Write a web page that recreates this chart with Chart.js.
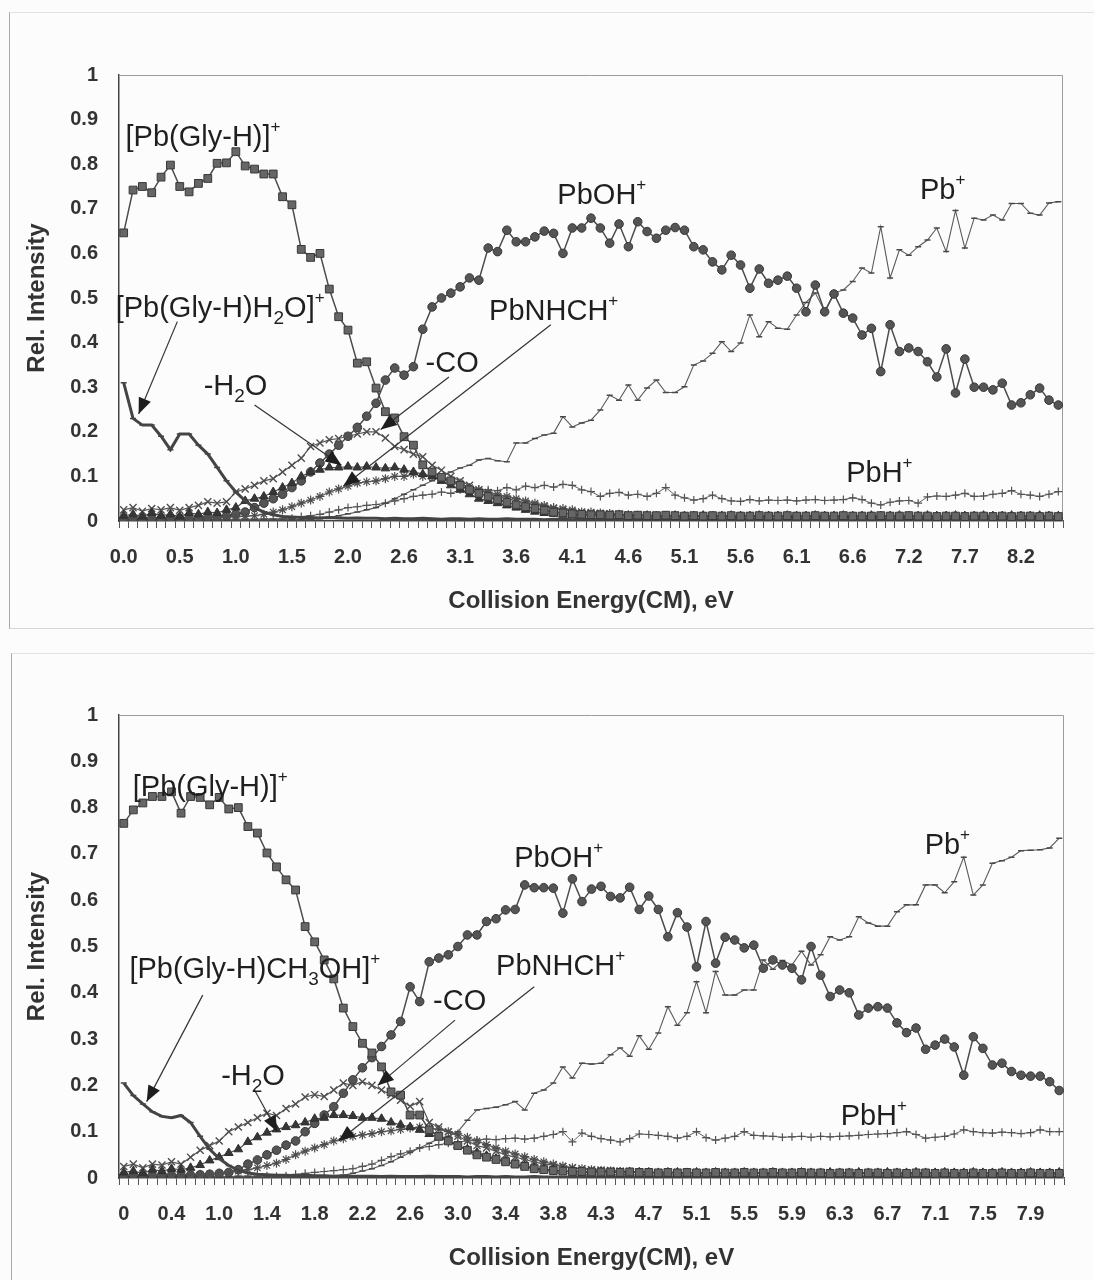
<!DOCTYPE html>
<html>
<head>
<meta charset="utf-8">
<script src="https://cdn.jsdelivr.net/npm/chart.js@4.4.1/dist/chart.umd.min.js"></script>
<style>
  html, body { margin: 0; padding: 0; background: #fcfcfc; }
  .page { position: relative; width: 1094px; height: 1280px; overflow: hidden; }
  .box { position: absolute; box-sizing: border-box; }
  #boxTop { left: 9px; top: 12px; width: 1085px; height: 617px; border-left: 1px solid #a8a8a8; border-top: 1px solid #e2e2e2; border-bottom: 1px solid #d4d4d4; }
  #boxBottom { left: 11px; top: 653px; width: 1083px; height: 640px; border-left: 1px solid #a8a8a8; border-top: 1px solid #e2e2e2; }
  canvas { position: absolute; left: 0; }
  #chartTop { top: 0; }
  #chartBottom { top: 640px; }
</style>
</head>
<body>
<div class="page">
  <div class="box" id="boxTop"></div>
  <div class="box" id="boxBottom"></div>
  <canvas id="chartTop" width="1094" height="640"></canvas>
  <canvas id="chartBottom" width="1094" height="640"></canvas>
</div>
<script>
/* ======= Data: top panel ([Pb(Gly-H)H2O]+) ======= */
const topCategories = Array.from({length: 101}, (_, i) => i);
const topTickLabels = ['0.0','0.5','1.0','1.5','2.0','2.6','3.1','3.6','4.1','4.6','5.1','5.6','6.1','6.6','7.2','7.7','8.2'];
const topTickEvery = 6;

const topParent = [0.646,0.742,0.750,0.736,0.771,0.798,0.750,0.738,0.757,0.768,0.802,0.803,0.828,0.796,0.789,0.778,0.778,0.727,0.709,0.609,0.591,0.600,
  0.52,0.458,0.428,0.354,0.357,0.298,0.245,0.231,0.189,0.170,0.126,
  0.11,0.098,0.09,0.08,0.07,0.062,0.055,0.048,0.042,0.036,0.032,0.028,0.024,0.02,0.018,0.016,0.015,0.014,
  0.014,0.013,0.014,0.012,0.013,0.012,0.012,0.013,0.012,0.011,
  0.012,0.011,0.012,0.011,0.012,0.011,0.011,0.012,0.011,0.011,
  0.012,0.011,0.011,0.012,0.011,0.011,0.012,0.011,0.011,0.011,
  0.012,0.011,0.011,0.012,0.011,0.011,0.01,0.011,0.011,0.01,
  0.011,0.011,0.01,0.011,0.01,0.011,0.011,0.01,0.011,0.01];
const topAdduct = [0.31,0.23,0.215,0.215,0.19,0.16,0.195,0.195,0.17,0.15,0.12,0.09,0.065,0.045,0.03,0.02,0.014,0.01,
  0.009,0.008,0.008,0.007,0.008,0.007,0.006,0.007,0.006,0.006,
  0.005,0.006,0.005,0.005,0.006,0.005,0.004,0.005,0.005,0.004,
  0.005,0.004,0.004,0.005,0.004,0.004,0.004,0.003,0.004,0.004,
  0.003,0.004,0.003,0.003,0.004,0.003,0.003,0.003,0.004,0.003,
  0.003,0.003,0.003,0.002,0.003,0.003,0.002,0.003,0.003,0.002,
  0.003,0.002,0.002,0.003,0.002,0.002,0.002,0.003,0.002,0.002,
  0.002,0.002,0.003,0.002,0.002,0.002,0.002,0.002,0.003,0.002,
  0.002,0.002,0.002,0.002,0.002,0.002,0.002,0.002,0.002,0.002,
  0.002,0.002,0.002];
const topLossH2O = [0.012,0.015,0.01,0.018,0.012,0.015,0.01,0.018,0.015,0.02,0.018,0.025,
  0.03,0.045,0.05,0.055,0.065,0.075,0.085,0.10,0.11,0.115,
  0.12,0.12,0.122,0.12,0.122,0.12,0.118,0.12,0.115,0.11,
  0.105,0.1,0.09,0.08,0.07,0.06,0.05,0.045,0.04,0.035,
  0.03,0.025,0.021,0.018,0.016,0.014,0.013,
  0.012,0.011,0.012,0.011,0.012,0.011,0.011,0.012,0.011,0.011,
  0.012,0.011,0.011,0.012,0.011,0.011,0.012,0.011,0.011,0.012,
  0.011,0.011,0.012,0.011,0.011,0.012,0.011,0.011,0.012,0.011,
  0.011,0.012,0.011,0.011,0.012,0.011,0.011,0.012,0.011,0.011,
  0.012,0.011,0.011,0.012,0.011,0.011,0.012,0.011,0.011,0.012,
  0.011,0.011];
const topLossCO = [0.025,0.03,0.022,0.028,0.025,0.03,0.024,0.03,0.035,0.043,0.04,0.043,
  0.065,0.072,0.08,0.09,0.095,0.11,0.125,0.141,0.167,0.175,
  0.182,0.185,0.19,0.195,0.2,0.2,0.186,0.167,0.16,0.15,
  0.144,0.125,0.114,0.1,0.09,0.08,0.07,0.062,0.055,
  0.05,0.045,0.04,0.036,0.032,0.028,0.025,0.022,0.02,0.018,
  0.017,0.016,0.015,0.014,0.013,0.013,0.012,0.012,0.012,0.011,
  0.011,0.01,0.011,0.01,0.01,0.011,0.01,0.01,0.011,0.01,
  0.01,0.011,0.01,0.01,0.011,0.01,0.01,0.011,0.01,0.01,
  0.011,0.01,0.01,0.011,0.01,0.01,0.011,0.01,0.01,0.011,
  0.01,0.01,0.011,0.01,0.01,0.011,0.01,0.01,0.011,0.01];
const topPbNHCH = [0.008,0.006,0.009,0.007,0.008,0.006,0.009,0.007,0.008,0.01,0.008,0.01,0.009,0.011,
  0.012,0.015,0.02,0.025,0.032,0.04,0.047,0.055,0.065,0.072,
  0.078,0.085,0.088,0.09,0.095,0.1,0.1,0.105,0.1,0.1,
  0.095,0.09,0.085,0.075,0.07,0.065,0.06,0.055,0.05,0.045,
  0.04,0.035,0.03,0.028,0.025,0.02,0.02,0.018,0.017,0.015,
  0.014,0.013,0.012,0.012,0.011,0.011,0.011,
  0.011,0.012,0.011,0.011,0.01,0.011,0.01,0.01,0.011,0.01,
  0.01,0.009,0.01,0.01,0.009,0.01,0.009,0.009,0.01,0.009,
  0.009,0.009,0.009,0.009,0.01,0.009,0.009,0.009,0.01,0.009,
  0.009,0.01,0.009,0.009,0.009,0.01,0.009,0.009,0.009,0.009];
const topPbOH = [0.004,0.005,0.004,0.005,0.005,0.006,0.005,0.006,0.007,0.008,0.009,
  0.011,0.015,0.02,0.03,0.04,0.05,0.06,0.075,0.09,0.11,0.13,0.15,0.17,0.19,0.21,0.235,
  0.264,0.316,0.343,0.327,0.346,0.43,0.48,0.50,0.511,0.525,
  0.545,0.54,0.612,0.604,0.652,0.626,0.626,0.637,0.65,0.645,
  0.6,0.657,0.657,0.679,0.657,0.623,0.666,0.615,0.671,0.649,
  0.634,0.652,0.658,0.652,0.615,0.608,0.581,0.563,0.596,0.574,
  0.522,0.565,0.533,0.54,0.549,0.522,0.469,0.529,0.469,0.509,
  0.466,0.455,0.417,0.432,0.335,0.44,0.38,0.388,0.38,0.357,
  0.323,0.386,0.287,0.363,0.3,0.3,0.294,0.309,0.26,0.265,
  0.283,0.298,0.271,0.26];
const topPb = [0.003,0.003,0.003,0.003,0.003,0.003,0.003,0.003,0.003,0.003,0.003,
  0.003,0.003,0.003,0.003,0.003,0.003,0.003,0.003,0.003,0.003,
  0.005,0.008,0.012,0.016,0.02,0.025,0.03,0.04,0.05,0.06,
  0.07,0.08,0.09,0.1,0.11,0.119,0.125,0.137,0.14,0.135,
  0.133,0.175,0.175,0.185,0.193,0.197,0.234,0.211,0.22,0.226,
  0.249,0.282,0.271,0.305,0.271,0.298,0.316,0.288,0.288,0.301,
  0.35,0.359,0.376,0.402,0.38,0.399,0.462,0.413,0.447,0.432,
  0.43,0.462,0.49,0.511,0.47,0.511,0.518,0.537,0.567,0.556,
  0.66,0.545,0.608,0.596,0.615,0.63,0.657,0.604,0.696,0.612,
  0.679,0.675,0.686,0.675,0.712,0.712,0.69,0.686,0.713,0.716];
const topPbH = [0.003,0.004,0.003,0.004,0.003,0.004,0.003,0.003,0.004,0.003,0.004,0.003,0.004,0.004,0.004,0.005,0.005,0.005,
  0.006,0.01,0.012,0.015,0.02,0.025,0.03,0.032,0.035,0.037,
  0.04,0.045,0.05,0.055,0.058,0.06,0.065,0.062,0.07,0.066,
  0.072,0.07,0.068,0.075,0.07,0.078,0.075,0.08,0.076,0.082,
  0.08,0.07,0.066,0.055,0.062,0.064,0.058,0.06,0.055,0.062,
  0.075,0.058,0.052,0.047,0.05,0.058,0.05,0.045,0.044,0.048,
  0.045,0.047,0.046,0.047,0.045,0.047,0.048,0.046,0.047,0.048,
  0.052,0.048,0.04,0.036,0.042,0.045,0.046,0.04,0.054,0.056,
  0.055,0.058,0.062,0.055,0.056,0.06,0.062,0.068,0.06,0.058,
  0.055,0.06,0.066];

/* ======= Data: bottom panel ([Pb(Gly-H)CH3OH]+) ======= */
const botCategories = Array.from({length: 99}, (_, i) => i);
const botTickLabels = ['0','0.4','1.0','1.4','1.8','2.2','2.6','3.0','3.4','3.8','4.3','4.7','5.1','5.5','5.9','6.3','6.7','7.1','7.5','7.9'];
const botTickEvery = 5;

const botParent = [0.766,0.795,0.81,0.824,0.824,0.834,0.788,0.824,0.822,0.806,
  0.822,0.797,0.80,0.759,0.745,0.702,0.672,0.644,0.622,0.543,
  0.51,0.471,0.43,0.367,0.327,0.291,0.27,0.24,0.186,0.179,
  0.136,0.136,0.104,
  0.09,0.08,0.07,0.06,0.05,0.045,0.04,0.035,0.03,0.025,0.02,0.018,0.016,0.015,0.014,0.014,0.013,0.013,
  0.013,0.012,0.013,0.012,0.012,0.011,0.012,0.011,0.012,0.011,
  0.011,0.012,0.011,0.011,0.012,0.011,0.011,0.012,0.011,0.011,
  0.012,0.011,0.011,0.01,0.011,0.011,0.01,0.011,0.011,0.01,
  0.011,0.01,0.011,0.011,0.01,0.011,0.01,0.01,0.011,0.01,
  0.01,0.011,0.01,0.01,0.011,0.01,0.01,0.01];
const botAdduct = [0.205,0.178,0.16,0.143,0.133,0.13,0.135,0.12,0.09,0.062,0.042,0.027,0.017,0.011,0.008,
  0.007,0.006,0.006,0.005,0.006,0.005,0.005,0.004,0.005,0.004,
  0.004,0.004,0.003,0.004,0.003,0.003,0.003,0.004,0.003,0.003,
  0.003,0.002,0.003,0.003,0.002,0.003,0.002,0.002,0.003,0.002,
  0.002,0.002,0.002,0.003,0.002,0.002,0.002,0.002,0.002,0.002,
  0.002,0.002,0.002,0.002,0.002,0.002,0.002,0.002,0.002,0.002,
  0.002,0.002,0.002,0.002,0.002,0.002,0.002,0.002,0.002,0.002,
  0.002,0.002,0.002,0.002,0.002,0.002,0.002,0.002,0.002,0.002,
  0.002,0.002,0.002,0.002,0.002,0.002,0.002,0.002,0.002,0.002,
  0.002,0.002,0.002,0.002];
const botLossH2O = [0.012,0.015,0.01,0.018,0.015,0.02,0.018,0.022,0.028,0.038,
  0.045,0.054,0.062,0.078,0.088,0.098,0.105,0.11,0.114,0.12,
  0.128,0.13,0.136,0.136,0.134,0.13,0.13,0.128,0.12,0.115,
  0.11,0.104,0.095,0.088,0.08,0.07,0.062,0.055,0.048,0.042,
  0.036,0.03,0.026,0.022,0.019,0.017,0.015,0.014,
  0.013,0.012,0.013,0.012,0.012,0.013,0.012,0.012,0.011,0.012,
  0.012,0.011,0.012,0.011,0.012,0.011,0.011,0.012,0.011,0.011,
  0.012,0.011,0.011,0.012,0.011,0.011,0.012,0.011,0.011,0.012,
  0.011,0.011,0.012,0.011,0.011,0.012,0.011,0.011,0.012,0.011,
  0.011,0.012,0.011,0.011,0.012,0.011,0.011,0.012,0.011,0.011,
  0.012];
const botLossCO = [0.025,0.03,0.022,0.03,0.028,0.035,0.03,0.045,0.06,0.07,
  0.08,0.1,0.11,0.12,0.13,0.14,0.135,0.15,0.16,0.175,
  0.18,0.176,0.19,0.205,0.2,0.208,0.2,0.19,0.18,0.168,
  0.155,0.165,0.12,0.11,0.1,0.09,0.08,0.07,0.065,0.058,
  0.05,0.045,0.04,0.035,0.03,0.028,0.025,0.022,0.02,
  0.018,0.017,0.016,0.015,0.014,0.013,0.013,0.012,0.012,0.012,
  0.011,0.012,0.011,0.011,0.012,0.011,0.011,0.01,0.011,0.011,
  0.01,0.011,0.01,0.011,0.011,0.01,0.011,0.01,0.01,0.011,
  0.01,0.011,0.01,0.01,0.011,0.01,0.01,0.011,0.01,0.01,
  0.011,0.01,0.01,0.011,0.01,0.01,0.011,0.01,0.01,0.011];
const botPbNHCH = [0.007,0.006,0.008,0.006,0.007,0.008,0.007,0.009,0.008,0.009,0.01,
  0.012,0.015,0.018,0.022,0.027,0.032,0.04,0.05,0.058,
  0.065,0.072,0.08,0.085,0.09,0.093,0.096,0.1,0.102,0.105,
  0.108,0.11,0.108,0.105,0.1,0.095,0.088,0.08,0.072,0.065,
  0.058,0.052,0.046,0.04,0.035,0.03,0.026,0.022,0.02,0.018,
  0.016,0.015,0.014,0.013,0.013,0.012,0.012,0.012,0.011,0.011,
  0.011,0.01,0.011,0.01,0.011,0.01,0.01,0.011,0.01,0.01,
  0.01,0.01,0.009,0.01,0.01,0.01,0.009,0.01,0.01,0.009,
  0.01,0.009,0.01,0.01,0.009,0.01,0.009,0.009,0.01,0.009,
  0.009,0.01,0.009,0.009,0.009,0.01,0.009,0.009,0.009];
const botPbOH = [0.004,0.005,0.004,0.005,0.005,0.006,0.005,0.006,0.007,0.008,0.01,0.012,0.018,
  0.03,0.039,0.05,0.06,0.071,0.08,0.1,
  0.118,0.136,0.154,0.183,0.212,0.238,0.26,0.284,0.309,0.338,
  0.413,0.381,0.467,0.475,0.482,0.5,0.525,0.525,0.554,0.56,
  0.579,0.58,0.633,0.627,0.627,0.626,0.572,0.646,0.597,0.624,
  0.63,0.608,0.605,0.628,0.58,0.609,0.58,0.521,0.573,0.542,
  0.456,0.554,0.464,0.52,0.514,0.497,0.503,0.453,0.471,0.46,
  0.453,0.428,0.5,0.438,0.392,0.406,0.4,0.352,0.367,0.37,
  0.367,0.335,0.314,0.324,0.278,0.287,0.3,0.283,0.222,0.305,
  0.28,0.244,0.248,0.23,0.222,0.22,0.22,0.208,0.189];
const botPb = [0.003,0.003,0.003,0.003,0.003,0.003,0.003,0.003,0.003,0.003,
  0.003,0.003,0.003,0.003,0.003,0.003,0.003,0.003,0.003,0.003,
  0.003,0.003,0.003,
  0.006,0.01,0.015,0.02,0.027,0.035,0.045,
  0.055,0.065,0.075,0.085,0.09,0.1,0.125,0.147,0.15,0.153,
  0.158,0.165,0.147,0.183,0.19,0.205,0.24,0.216,0.248,0.246,
  0.248,0.266,0.281,0.263,0.307,0.278,0.313,0.37,0.33,0.357,
  0.424,0.357,0.446,0.395,0.395,0.406,0.406,0.471,0.451,0.47,
  0.46,0.49,0.46,0.482,0.521,0.514,0.521,0.564,0.551,0.544,
  0.544,0.575,0.59,0.59,0.633,0.633,0.616,0.64,0.693,0.611,
  0.633,0.68,0.685,0.693,0.707,0.708,0.709,0.713,0.734];
const botPbH = [0.003,0.004,0.003,0.004,0.003,0.004,0.003,0.004,0.003,0.004,0.004,0.003,0.004,0.004,0.004,0.005,0.004,
  0.005,0.008,0.01,
  0.012,0.014,0.016,0.018,0.02,0.025,0.03,0.038,0.046,0.052,
  0.058,0.065,0.068,0.072,0.075,0.078,0.08,0.082,0.084,0.083,
  0.085,0.086,0.084,0.086,0.09,0.094,0.1,0.078,0.097,0.09,
  0.085,0.082,0.078,0.085,0.095,0.094,0.092,0.09,0.086,0.09,
  0.1,0.087,0.082,0.086,0.09,0.1,0.092,0.091,0.09,0.088,
  0.089,0.09,0.088,0.09,0.089,0.09,0.091,0.092,0.094,0.095,
  0.096,0.098,0.1,0.094,0.086,0.088,0.09,0.095,0.104,0.1,
  0.098,0.097,0.099,0.098,0.096,0.098,0.104,0.1,0.1];

/* ======= Styles ======= */
const FONT = '"Liberation Sans", Arial, sans-serif';

const seriesStyle = {
    parent: { pointStyle: 'rect', pointRadius: 5.5, borderWidth: 1.5, borderColor: '#4c4c4c', pointBackgroundColor: '#666', pointBorderColor: '#383838', pointBorderWidth: 1 },
    adduct: { pointStyle: 'line', pointRadius: 3, borderWidth: 3, borderColor: '#444', pointBorderColor: '#444', pointBorderWidth: 1.5 },
    water:  { pointStyle: 'triangle', pointRadius: 5, borderWidth: 1.2, borderColor: '#4c4c4c', pointBackgroundColor: '#363636', pointBorderColor: '#303030', pointBorderWidth: 1 },
    co:     { pointStyle: 'crossRot', pointRadius: 5, borderWidth: 1.2, borderColor: '#555', pointBorderColor: '#4e4e4e', pointBorderWidth: 1.4 },
    nhch:   { pointStyle: 'star', pointRadius: 4.5, borderWidth: 1.2, borderColor: '#555', pointBorderColor: '#4e4e4e', pointBorderWidth: 1.2 },
    oh:     { pointStyle: 'circle', pointRadius: 4.3, borderWidth: 1.5, borderColor: '#4c4c4c', pointBackgroundColor: '#555', pointBorderColor: '#363636', pointBorderWidth: 1 },
    pb:     { pointStyle: 'line', pointRadius: 3, borderWidth: 1.1, borderColor: '#5a5a5a', pointBorderColor: '#484848', pointBorderWidth: 1.5 },
    pbh:    { pointStyle: 'cross', pointRadius: 4, borderWidth: 1, borderColor: '#646464', pointBorderColor: '#525252', pointBorderWidth: 1.2 },
};

function makeDatasets(series) {
    return series.map(([key, values]) => Object.assign({
        data: values,
        fill: false,
        tension: 0,
        backgroundColor: 'transparent',
    }, seriesStyle[key]));
}

/* ======= Rich text: _x subscript, ^x superscript ======= */
function drawRich(ctx, x, y, text) {
    const big = '29px ' + FONT, sub = '19px ' + FONT, sup = '17px ' + FONT;
    ctx.fillStyle = '#1f1f1f';
    ctx.textBaseline = 'alphabetic';
    ctx.textAlign = 'left';
    let cx = x;
    for (let k = 0; k < text.length; k++) {
        let ch = text[k], font = big, dy = 0;
        if (ch === '_') { ch = text[++k]; font = sub; dy = 7; }
        else if (ch === '^') { ch = text[++k]; font = sup; dy = -14; }
        ctx.font = font;
        ctx.fillText(ch, cx, y + dy);
        cx += ctx.measureText(ch).width;
    }
}

const framePlugin = {
    id: 'frame',
    beforeDatasetsDraw(chart) {
        const {ctx, chartArea: a} = chart;
        ctx.save();
        ctx.strokeStyle = '#9c9c9c';
        ctx.lineWidth = 1;
        ctx.beginPath();
        ctx.moveTo(a.left, a.top + 0.5);
        ctx.lineTo(a.right - 0.5, a.top + 0.5);
        ctx.lineTo(a.right - 0.5, a.bottom);
        ctx.stroke();
        ctx.restore();
    }
};

const notesPlugin = {
    id: 'notes',
    afterDatasetsDraw(chart, args, opts) {
        const {ctx, scales: {x, y}} = chart;
        ctx.save();
        (opts.arrows || []).forEach(a => {
            const x1 = x.getPixelForValue(a.from[0]), y1 = y.getPixelForValue(a.from[1]);
            const x2 = x.getPixelForValue(a.to[0]), y2 = y.getPixelForValue(a.to[1]);
            ctx.strokeStyle = '#333';
            ctx.lineWidth = 1.2;
            ctx.beginPath();
            ctx.moveTo(x1, y1);
            ctx.lineTo(x2, y2);
            ctx.stroke();
            const ang = Math.atan2(y2 - y1, x2 - x1);
            const L = 16, W = 6.5;
            ctx.fillStyle = '#1e1e1e';
            ctx.beginPath();
            ctx.moveTo(x2, y2);
            ctx.lineTo(x2 - L * Math.cos(ang) + W * Math.sin(ang), y2 - L * Math.sin(ang) - W * Math.cos(ang));
            ctx.lineTo(x2 - L * Math.cos(ang) - W * Math.sin(ang), y2 - L * Math.sin(ang) + W * Math.cos(ang));
            ctx.closePath();
            ctx.fill();
        });
        (opts.labels || []).forEach(n => {
            drawRich(ctx, x.getPixelForValue(n.at[0]), y.getPixelForValue(n.at[1]), n.text);
        });
        ctx.restore();
    }
};

function buildChart(id, cfg) {
    const el = document.getElementById(id);
    return new Chart(el, {
        type: 'line',
        data: { labels: cfg.categories, datasets: makeDatasets(cfg.series) },
        options: {
            responsive: false,
            animation: false,
            devicePixelRatio: 1,
            layout: { padding: { top: 75, right: cfg.padRight, bottom: cfg.padBottom, left: 0 } },
            plugins: {
                legend: { display: false },
                tooltip: { enabled: false },
                notes: { labels: cfg.labels, arrows: cfg.arrows },
            },
            scales: {
                x: {
                    type: 'category',
                    offset: true,
                    grid: { display: true, drawOnChartArea: false, drawTicks: true, tickLength: 7, tickColor: '#555', tickWidth: 1, offset: true },
                    border: { display: true, color: '#444', width: 1.5 },
                    ticks: {
                        autoSkip: false, maxRotation: 0, minRotation: 0, padding: 17,
                        color: '#333',
                        font: { family: FONT, size: 20, weight: 'bold' },
                        callback: (value, index) => index % cfg.every === 0 ? (cfg.tickLabels[index / cfg.every] || '') : '',
                    },
                    title: {
                        display: true, text: 'Collision Energy(CM), eV', color: '#333',
                        font: { family: FONT, size: 24, weight: 'bold' },
                        padding: { top: 0, bottom: 0 },
                    },
                    afterFit(scale) { scale.height = 95; },
                },
                y: {
                    min: 0, max: 1,
                    grid: { display: false, drawTicks: false },
                    border: { display: true, color: '#444', width: 1.5 },
                    ticks: {
                        stepSize: 0.1, padding: 21, color: '#333',
                        font: { family: FONT, size: 20, weight: 'bold' },
                        callback(value) {
                            const v = Math.round(value * 10) / 10;
                            return (v === 0 || v === 1) ? String(v) : v.toFixed(1);
                        },
                    },
                    title: {
                        display: true, text: 'Rel. Intensity', color: '#333',
                        font: { family: FONT, size: 24, weight: 'bold' },
                        padding: { top: 23, bottom: 0 },
                    },
                    afterFit(scale) { scale.width = 119; },
                },
            },
        },
        plugins: [framePlugin, notesPlugin],
    });
}

buildChart('chartTop', {
    categories: topCategories,
    tickLabels: topTickLabels,
    every: topTickEvery,
    padRight: 31,
    padBottom: 24,
    series: [
        ['parent', topParent], ['adduct', topAdduct], ['water', topLossH2O], ['co', topLossCO],
        ['nhch', topPbNHCH], ['oh', topPbOH], ['pb', topPb], ['pbh', topPbH],
    ],
    labels: [
        { text: '[Pb(Gly-H)]^+', at: [0.2, 0.841] },
        { text: '[Pb(Gly-H)H_2O]^+', at: [-0.86, 0.457] },
        { text: '-H_2O', at: [8.56, 0.283] },
        { text: '-CO', at: [32.3, 0.334] },
        { text: 'PbNHCH^+', at: [39.1, 0.451] },
        { text: 'PbOH^+', at: [46.4, 0.711] },
        { text: 'Pb^+', at: [85.2, 0.722] },
        { text: 'PbH^+', at: [77.3, 0.087] },
    ],
    arrows: [
        { from: [5.74, 0.447], to: [1.6, 0.24] },
        { from: [14.0, 0.26], to: [23.3, 0.125] },
        { from: [34.8, 0.323], to: [27.5, 0.205] },
        { from: [45.7, 0.44], to: [23.5, 0.078] },
    ],
});

buildChart('chartBottom', {
    categories: botCategories,
    tickLabels: botTickLabels,
    every: botTickEvery,
    padRight: 30,
    padBottom: 7,
    series: [
        ['parent', botParent], ['adduct', botAdduct], ['water', botLossH2O], ['co', botLossCO],
        ['nhch', botPbNHCH], ['oh', botPbOH], ['pb', botPb], ['pbh', botPbH],
    ],
    labels: [
        { text: '[Pb(Gly-H)]^+', at: [0.94, 0.826] },
        { text: '[Pb(Gly-H)CH_3OH]^+', at: [0.59, 0.432] },
        { text: '-H_2O', at: [10.2, 0.2] },
        { text: '-CO', at: [32.4, 0.363] },
        { text: 'PbNHCH^+', at: [39, 0.438] },
        { text: 'PbOH^+', at: [40.9, 0.672] },
        { text: 'Pb^+', at: [83.9, 0.7] },
        { text: 'PbH^+', at: [75.1, 0.114] },
    ],
    arrows: [
        { from: [8.27, 0.395], to: [2.4, 0.165] },
        { from: [13.7, 0.19], to: [16.1, 0.1] },
        { from: [34.7, 0.341], to: [26.6, 0.2] },
        { from: [43, 0.413], to: [22.5, 0.08] },
    ],
});
</script>
</body>
</html>
